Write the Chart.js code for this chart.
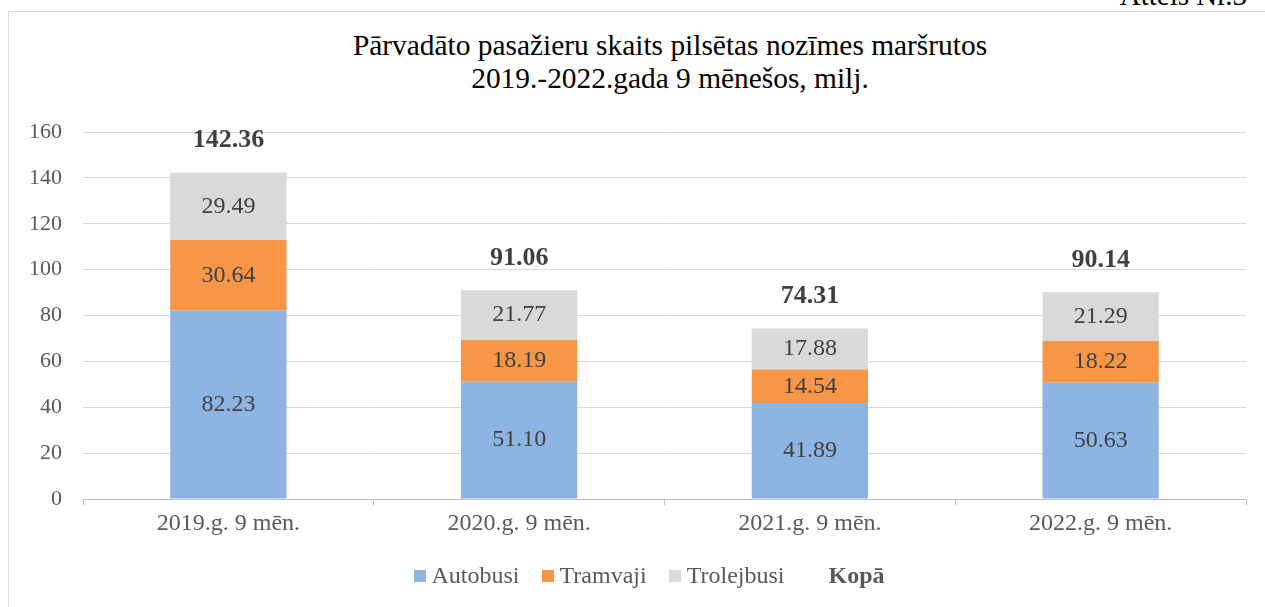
<!DOCTYPE html>
<html>
<head>
<meta charset="utf-8">
<script src="https://cdn.jsdelivr.net/npm/chart.js@4.4.0/dist/chart.umd.min.js"></script>
<style>
  body { margin: 0; background: #fff; width: 1265px; height: 607px; overflow: hidden; position: relative; font-family: "Liberation Serif", "Times New Roman", serif; }
  #ramis { position: absolute; left: 8px; top: 11px; width: 1300px; height: 700px; border: 1px solid #d9d9d9; box-sizing: border-box; }
  #atteels { position: absolute; right: 18px; top: -21px; font-size: 29px; line-height: 33px; color: #000; white-space: nowrap; }
  #virsraksts { position: absolute; left: 0; width: 1340px; top: 29px; text-align: center; font-size: 29.4px; line-height: 33px; color: #000; }
  #kanva { position: absolute; left: 0; top: 0; }
  #legenda { position: absolute; left: 3px; width: 1292px; top: 562px; text-align: center; font-size: 24px; color: #595959; white-space: nowrap; }
  #legenda span.el { display: inline-block; margin: 0 11px; }
  #legenda i { display: inline-block; width: 12px; height: 12px; margin-right: 6px; vertical-align: 1px; }
</style>
</head>
<body>
<div id="ramis"></div>
<div id="atteels">Attēls Nr.3</div>
<div id="virsraksts">Pārvadāto pasažieru skaits pilsētas nozīmes maršrutos<br>2019.-2022.gada 9 mēnešos, milj.</div>
<canvas id="kanva" width="1265" height="607"></canvas>
<div id="legenda"></div>
<script>
// --- DATI ---
const periodi = ['2019.g. 9 mēn.', '2020.g. 9 mēn.', '2021.g. 9 mēn.', '2022.g. 9 mēn.'];
const autobusi = [82.23, 51.10, 41.89, 50.63];
const tramvaji = [30.64, 18.19, 14.54, 18.22];
const trolejbusi = [29.49, 21.77, 17.88, 21.29];
const kopa = [142.36, 91.06, 74.31, 90.14];
const yTicks = [0, 20, 40, 60, 80, 100, 120, 140, 160];

const krasas = { autobusi: '#8eb4e3', tramvaji: '#f79646', trolejbusi: '#d9d9d9' };

// leģenda (Kopā bez krāsas kvadrāta, treknrakstā)
const legenda = document.getElementById('legenda');
[['Autobusi', krasas.autobusi], ['Tramvaji', krasas.tramvaji], ['Trolejbusi', krasas.trolejbusi]].forEach(([nos, kr]) => {
    legenda.innerHTML += `<span class="el"><i style="background:${kr}"></i>${nos}</span>`;
});
legenda.innerHTML += `<span class="el" style="margin-left:33px;"><b>Kopā</b></span>`;

// vērtību uzraksti uz stabiņiem
const uzraksti = {
    id: 'uzraksti',
    afterDatasetsDraw(chart) {
        const ctx = chart.ctx;
        ctx.save();
        ctx.textAlign = 'center';
        ctx.textBaseline = 'middle';
        chart.data.datasets.forEach((ds, i) => {
            const meta = chart.getDatasetMeta(i);
            meta.data.forEach((el, j) => {
                const v = ds.data[j];
                if (ds.type === 'line') {
                    ctx.font = 'bold 26px "Liberation Serif"';
                    ctx.fillStyle = '#404040';
                    ctx.fillText(v.toFixed(2), el.x, el.y - 32);
                } else {
                    ctx.font = '24px "Liberation Serif"';
                    ctx.fillStyle = '#404040';
                    ctx.fillText(v.toFixed(2), el.x, (el.y + el.base) / 2);
                }
            });
        });
        ctx.restore();
    }
};

new Chart(document.getElementById('kanva'), {
    type: 'bar',
    data: {
        labels: periodi,
        datasets: [
            { label: 'Autobusi', data: autobusi, backgroundColor: krasas.autobusi, stack: 's', barPercentage: 0.4, categoryPercentage: 1 },
            { label: 'Tramvaji', data: tramvaji, backgroundColor: krasas.tramvaji, stack: 's', barPercentage: 0.4, categoryPercentage: 1 },
            { label: 'Trolejbusi', data: trolejbusi, backgroundColor: krasas.trolejbusi, stack: 's', barPercentage: 0.4, categoryPercentage: 1 },
            { type: 'line', label: 'Kopā', data: kopa, stack: 'k', showLine: false, pointRadius: 0, borderColor: 'transparent', backgroundColor: 'transparent' }
        ]
    },
    options: {
        responsive: false,
        animation: false,
        layout: { padding: { left: 13, right: 19, top: 132, bottom: 68 } },
        plugins: { legend: { display: false }, tooltip: { enabled: false }, title: { display: false } },
        scales: {
            x: {
                stacked: true,
                grid: { display: true, drawOnChartArea: false, drawTicks: true, tickLength: 6, offset: true, color: '#bfbfbf' },
                border: { display: true, color: '#bfbfbf' },
                ticks: { color: '#595959', font: { family: 'Liberation Serif', size: 24 }, padding: 4 },
                afterFit(s) { s.height = 40; }
            },
            y: {
                stacked: true,
                min: 0, max: 160,
                afterBuildTicks(s) { s.ticks = yTicks.map(v => ({ value: v })); },
                grid: { color: '#d9d9d9', drawTicks: false },
                border: { display: false },
                ticks: { color: '#595959', font: { family: 'Liberation Serif', size: 22 }, padding: 21 },
                afterFit(s) { s.width = 70; }
            }
        }
    },
    plugins: [uzraksti]
});
</script>
</body>
</html>
